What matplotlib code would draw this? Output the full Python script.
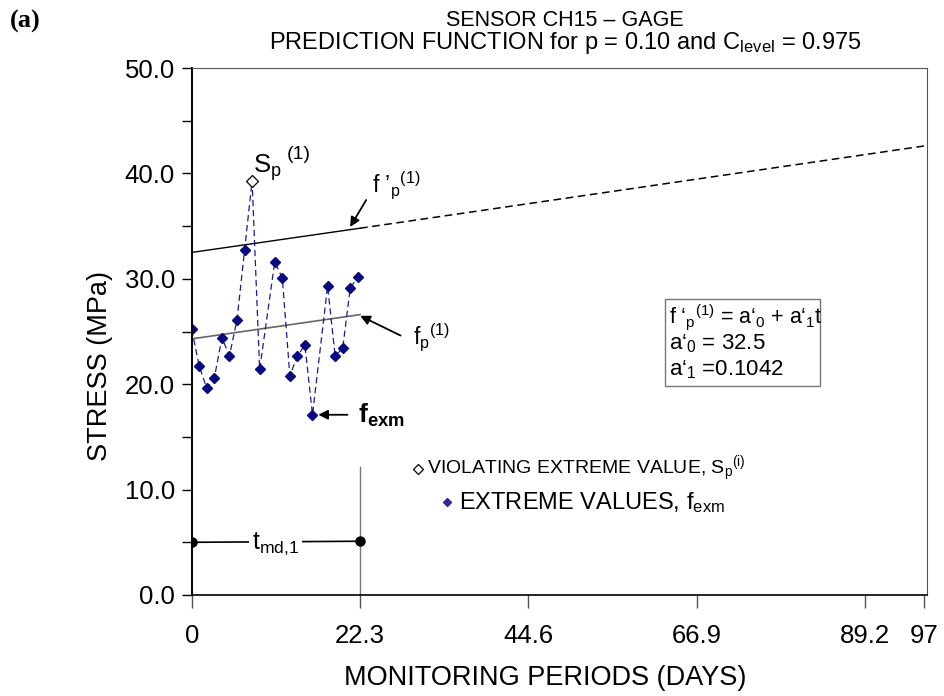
import matplotlib
matplotlib.use("Agg")
import matplotlib.pyplot as plt
from matplotlib.patches import Rectangle

plt.rcParams['font.family'] = ['Liberation Sans', 'DejaVu Sans']
plt.rcParams['mathtext.fontset'] = 'custom'
plt.rcParams['mathtext.rm'] = 'Liberation Sans'
plt.rcParams['mathtext.it'] = 'Liberation Sans'
plt.rcParams['mathtext.bf'] = 'Liberation Sans:bold'

# ---- data ----
days = [0, 1, 2, 3, 4, 5, 6, 7, 9, 11, 12, 13, 14, 15, 16, 18, 19, 20, 21, 22]
stress = [25.2, 21.7, 19.6, 20.6, 24.4, 22.7, 26.1, 32.7, 21.4, 31.6,
          30.1, 20.8, 22.7, 23.7, 17.1, 29.3, 22.7, 23.4, 29.1, 30.2]
viol_day = [8]
viol_stress = [39.3]
line_days = [0, 1, 2, 3, 4, 5, 6, 7, 8, 9, 11, 12, 13, 14, 15, 16, 18, 19, 20, 21, 22]
line_stress = [25.2, 21.7, 19.6, 20.6, 24.4, 22.7, 26.1, 32.7, 39.3, 21.4, 31.6,
               30.1, 20.8, 22.7, 23.7, 17.1, 29.3, 22.7, 23.4, 29.1, 30.2]
fpp_solid_x = [0, 22.3]
fpp_solid_y = [32.5, 34.8]
fpp_dash_x = [22.3, 97]
fpp_dash_y = [34.8, 42.6]
fp_x = [0, 22.3]
fp_y = [24.3, 26.6]
tmd_x = [0, 22.3]
tmd_y = [5.0, 5.1]
vline_x = [22.3, 22.3]
vline_y = [0, 12.1]
xticks = [0, 22.3, 44.6, 66.9, 89.2, 97]
xticklabels = ['0', '22.3', '44.6', '66.9', '89.2', '97']
yticks_major = [0, 10, 20, 30, 40, 50]
yticks_minor = [5, 15, 25, 35, 45]

W, H = 945, 696
fig = plt.figure(figsize=(W / 100, H / 100), dpi=100)
x0p, x1p, y0p, y1p = 191.7, 927, 595, 68
ax = fig.add_axes([x0p / W, 1 - y0p / H, (x1p - x0p) / W, (y0p - y1p) / H])
ax.set_xlim(0, 97.4)
ax.set_ylim(0, 50)

fs = 18.5
ax.plot(fpp_solid_x, fpp_solid_y, color='black', lw=1.0)
ax.plot(fpp_dash_x, fpp_dash_y, color='black', lw=1.1, ls=(0, (5, 3)))
ax.plot(fp_x, fp_y, color='#666666', lw=1.2)
ax.plot(line_days, line_stress, color='#1a1a9a', lw=0.9, ls=(0, (5, 3)))
ax.plot(days, stress, ls='none', marker='D', ms=5.5, color='#0a0a80')
ax.plot(viol_day, viol_stress, ls='none', marker='D', ms=6.5, mfc='white', mec='black', mew=0.9)
ax.plot(vline_x, vline_y, color='#777777', lw=1.0)
ax.plot(tmd_x, tmd_y, color='black', lw=1.2, marker='o', ms=6.5)
ax.text(11.1, 4.9, r'$\mathrm{t_{md{,}1}}$', fontsize=18, ha='center', va='center',
        bbox=dict(facecolor='white', edgecolor='none', pad=2))

# annotations
ax.text(8.1, 40.1, r'$\mathrm{S_p}$', fontsize=18.5, ha='left', va='baseline')
ax.text(12.6, 41.4, '(1)', fontsize=14, ha='left', va='baseline')
ax.annotate('', xy=(20.8, 34.7), xytext=(23.3, 37.7),
            arrowprops=dict(arrowstyle='-|>', color='black', lw=1.3, mutation_scale=14))
ax.text(23.9, 38.1, r"f ’$_\mathrm{p}$$^\mathrm{(1)}$", fontsize=16.5, ha='left', va='baseline')
ax.annotate('', xy=(22.0, 26.6), xytext=(28.0, 24.5),
            arrowprops=dict(arrowstyle='-|>', color='black', lw=1.3, mutation_scale=14))
ax.text(29.3, 23.7, r"f$_\mathrm{p}$$^\mathrm{(1)}$", fontsize=16.5, ha='left', va='baseline')
ax.annotate('', xy=(16.4, 17.1), xytext=(21.0, 17.1),
            arrowprops=dict(arrowstyle='-|>', color='black', lw=1.3, mutation_scale=14))
ax.text(22.0, 17.0, r"$\mathbf{f_{exm}}$", fontsize=19, ha='left', va='center')

# legend (custom)
ax.plot([30.0], [12.0], ls='none', marker='D', ms=5.5, mfc='white', mec='black', mew=0.9)
ax.text(31.2, 12.0, r'VIOLATING EXTREME VALUE, S$_\mathrm{p}$$^\mathrm{(i)}$', fontsize=14,
        ha='left', va='center')
ax.plot([33.8], [8.8], ls='none', marker='D', ms=4, color='#2a2a9a')
ax.text(35.4, 8.8, r'EXTREME VALUES, f$_\mathrm{exm}$', fontsize=17, ha='left', va='center')

# equation box
bx0 = (665 - x0p) / 7.55
by1 = (y0p - 299) / 10.54
by0 = (y0p - 386) / 10.54
bx1 = (820 - x0p) / 7.55
ax.add_patch(Rectangle((bx0, by0), bx1 - bx0, by1 - by0, fill=False, ec='#777777', lw=1.0))
ax.text(bx0 + 0.6, (y0p - 317) / 10.54, r"f ‘$_\mathrm{p}$$^\mathrm{(1)}$ = a‘$_\mathrm{0}$ + a‘$_\mathrm{1}$t",
        fontsize=15.5, ha='left', va='center')
ax.text(bx0 + 0.6, (y0p - 344) / 10.54, r"a‘$_\mathrm{0}$ = 32.5", fontsize=16, ha='left', va='center')
ax.text(bx0 + 0.6, (y0p - 370) / 10.54, r"a‘$_\mathrm{1}$ =0.1042", fontsize=16, ha='left', va='center')

# axes styling
ax.set_xticks(xticks)
ax.set_xticklabels(xticklabels, fontsize=fs)
ax.set_yticks(yticks_major)
ax.set_yticklabels(['%.1f' % v for v in yticks_major], fontsize=fs)
ax.set_yticks(yticks_minor, minor=True)
ax.tick_params(axis='x', length=9, width=1.0, color='#555555', pad=12)
ax.tick_params(axis='y', which='both', length=7, width=1.0, pad=5)
ax.spines['left'].set_linewidth(1.4)
ax.spines['bottom'].set_linewidth(1.2)
for s in ['top', 'right']:
    ax.spines[s].set_color('#555555')
    ax.spines[s].set_linewidth(0.8)

fig.text(545 / W, 1 - 678 / H, 'MONITORING PERIODS (DAYS)', fontsize=19.5, ha='center', va='center')
fig.text(100 / W, 1 - 366 / H, 'STRESS (MPa)', fontsize=19.5, ha='center', va='center', rotation=90)

fig.text(565 / W, 1 - 20 / H, 'SENSOR CH15 – GAGE', fontsize=15.5, ha='center', va='center')
fig.text(565 / W, 1 - 43 / H, r'PREDICTION FUNCTION for p = 0.10 and C$_\mathrm{level}$ = 0.975',
         fontsize=17, ha='center', va='center')
fig.text(10 / W, 1 - 21 / H, '(a)', fontsize=19, fontweight='bold', family='Liberation Serif',
         ha='left', va='center')

fig.savefig('out.png', dpi=100)
